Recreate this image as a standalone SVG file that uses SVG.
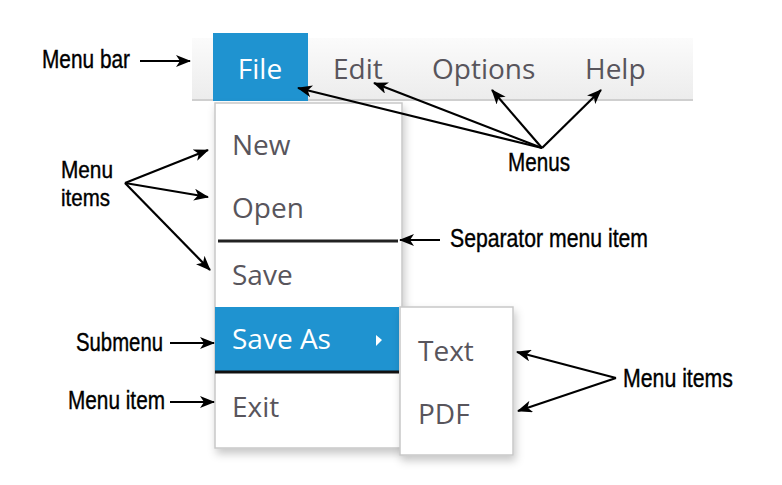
<svg xmlns="http://www.w3.org/2000/svg" width="782" height="485" viewBox="0 0 782 485">
<defs>
<linearGradient id="bar" x1="0" y1="0" x2="0" y2="1">
<stop offset="0" stop-color="#fbfbfb"/><stop offset="1" stop-color="#ececec"/>
</linearGradient>
<filter id="sh" x="-20%" y="-10%" width="140%" height="130%">
<feDropShadow dx="2" dy="5" stdDeviation="4" flood-color="#000" flood-opacity="0.22"/>
</filter>
<marker id="ah" viewBox="0 0 15 12" refX="14" refY="6" markerWidth="15" markerHeight="12" markerUnits="userSpaceOnUse" orient="auto">
<path d="M0,0 L15,6 L0,12 L4,6 z" fill="#000"/>
</marker>
<style>
.mi{font-family:"Open Sans","Noto Sans",sans-serif;font-size:28px;fill:#58555c}
.sel{font-family:"Open Sans","Noto Sans",sans-serif;font-size:28px;fill:#fff}
.lb{font-family:"Liberation Sans Narrow","Liberation Sans",sans-serif;font-size:26px;fill:#000;stroke:#000;stroke-width:0.4}
.lb2{font-size:24px}
.ar{stroke:#000;stroke-width:2.2;fill:none;marker-end:url(#ah)}
.panel{fill:#fff;stroke:#c8c8c8;stroke-width:1.5}
</style>
</defs>

<g id="menubar">
<rect x="192" y="38" width="501" height="62" fill="url(#bar)"/>
<line x1="192" y1="100" x2="693" y2="100" stroke="#cfcfcf" stroke-width="2"/>
<rect x="213" y="33" width="95" height="68" fill="#1f93d0"/>
<text class="sel" x="260" y="79" text-anchor="middle">File</text>
<text class="mi" x="333" y="79">Edit</text>
<text class="mi" x="432" y="79">Options</text>
<text class="mi" x="585" y="79">Help</text>
</g>

<g id="dropdown">
<rect class="panel" x="215" y="103" width="187" height="345" filter="url(#sh)"/>
<text class="mi" x="232" y="155">New</text>
<text class="mi" x="232" y="218">Open</text>
<line x1="218" y1="241" x2="398" y2="241" stroke="#222" stroke-width="3"/>
<text class="mi" x="232" y="285">Save</text>
<rect x="215" y="307" width="184" height="65" fill="#1f93d0"/>
<line x1="215" y1="372" x2="399" y2="372" stroke="#111" stroke-width="3"/>
<text class="sel" x="232" y="349">Save As</text>
<path d="M376,335 L382,340 L376,346 z" fill="#fff"/>
<text class="mi" x="232" y="417">Exit</text>
</g>

<g id="submenu">
<rect class="panel" x="400" y="307" width="113" height="148" filter="url(#sh)"/>
<text class="mi" x="418" y="361">Text</text>
<text class="mi" x="418" y="424">PDF</text>
</g>

<g id="labels">
<text class="lb" x="42" y="68" textLength="88" lengthAdjust="spacingAndGlyphs">Menu bar</text>
<text class="lb lb2" x="61" y="178" textLength="52" lengthAdjust="spacingAndGlyphs">Menu</text>
<text class="lb lb2" x="61" y="206" textLength="49" lengthAdjust="spacingAndGlyphs">items</text>
<text class="lb" x="508" y="171" textLength="62" lengthAdjust="spacingAndGlyphs">Menus</text>
<text class="lb" x="450" y="247" textLength="198" lengthAdjust="spacingAndGlyphs">Separator menu item</text>
<text class="lb" x="76" y="351" textLength="87" lengthAdjust="spacingAndGlyphs">Submenu</text>
<text class="lb" x="68" y="409" textLength="97" lengthAdjust="spacingAndGlyphs">Menu item</text>
<text class="lb" x="623" y="387" textLength="110" lengthAdjust="spacingAndGlyphs">Menu items</text>
</g>

<g id="connectors">
<line class="ar" x1="140" y1="61" x2="190" y2="61"/>
<line class="ar" x1="125" y1="183" x2="208" y2="150"/>
<line class="ar" x1="125" y1="183" x2="208" y2="197"/>
<line class="ar" x1="125" y1="183" x2="210" y2="270"/>
<line class="ar" x1="542" y1="148" x2="298" y2="88"/>
<line class="ar" x1="542" y1="148" x2="374" y2="83"/>
<line class="ar" x1="542" y1="148" x2="492" y2="90"/>
<line class="ar" x1="542" y1="148" x2="601" y2="90"/>
<line class="ar" x1="440" y1="240" x2="400" y2="240"/>
<line class="ar" x1="170" y1="343" x2="214" y2="343"/>
<line class="ar" x1="170" y1="402" x2="214" y2="402"/>
<line class="ar" x1="616" y1="378" x2="517" y2="352"/>
<line class="ar" x1="616" y1="378" x2="518" y2="411"/>
</g>
</svg>
